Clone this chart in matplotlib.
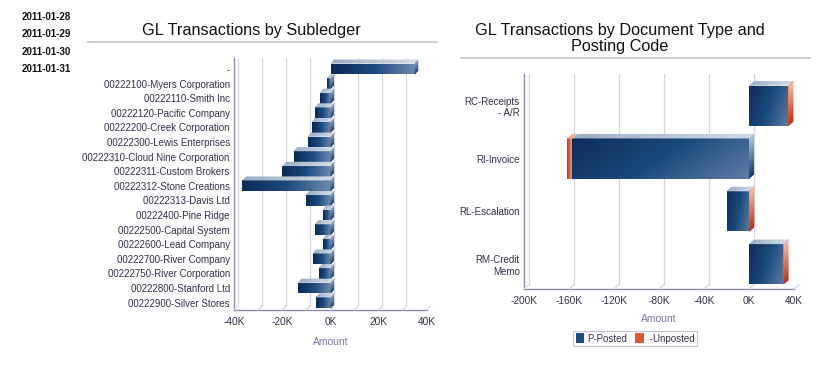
import matplotlib
matplotlib.use("Agg")
import matplotlib.pyplot as plt
import numpy as np
from matplotlib.colors import LinearSegmentedColormap, to_rgb
from matplotlib.patches import Polygon, Patch
from matplotlib.transforms import IdentityTransform, offset_copy
from matplotlib.ticker import FuncFormatter

plt.rcParams['font.family'] = ['Liberation Sans', 'DejaVu Sans']

# ---------------- data ----------------
dates = ["2011-01-28", "2011-01-29", "2011-01-30", "2011-01-31"]

subledgers = ["-", "00222100-Myers Corporation", "00222110-Smith Inc",
              "00222120-Pacific Company", "00222200-Creek Corporation",
              "00222300-Lewis Enterprises", "00222310-Cloud Nine Corporation",
              "00222311-Custom Brokers", "00222312-Stone Creations",
              "00222313-Davis Ltd", "00222400-Pine Ridge",
              "00222500-Capital System", "00222600-Lead Company",
              "00222700-River Company", "00222750-River Corporation",
              "00222800-Stanford Ltd", "00222900-Silver Stores"]
subledger_amount = [34900, -1400, -4400, -6500, -7800, -9400, -15300, -19900,
                    -36500, -10300, -3200, -6500, -3200, -7400, -4900, -13600, -6100]
left_ticks = [-40000, -20000, 0, 20000, 40000]
left_grid = [-40000, -30000, -20000, -10000, 0, 10000, 20000, 30000, 40000]

doc_types = ["RC-Receipts\n- A/R", "RI-Invoice", "RL-Escalation", "RM-Credit\nMemo"]
posted = [34700, -157000, -19900, 30500]
unposted = [300, -4400, 200, 200]
right_ticks = [-200000, -160000, -120000, -80000, -40000, 0, 40000]
series_names = ["P-Posted", " -Unposted"]

# ---------------- style ----------------
W, H = 835, 368
fig = plt.figure(figsize=(W / 100, H / 100), dpi=100)

SPINE = "#8c8cb0"
GRID = "#d4d4e2"
TICKC = "#333348"
LABELC = "#7a7aa8"

blue_cmap = LinearSegmentedColormap.from_list("b", ["#0c2a56", "#1b4a7e", "#6f8aad"])
blue_diag = LinearSegmentedColormap.from_list("bd", ["#0e2d5a", "#1a4a7c", "#5d7ca3"])
red_cmap = LinearSegmentedColormap.from_list("r", ["#c8341a", "#e0613f", "#f09a7c"])


def kfmt(v, p):
    return f"{int(round(v / 1000))}K"


def style_axes(ax, ticks, grid, dx, dy):
    ax.set_xticks(ticks)
    ax.xaxis.set_major_formatter(FuncFormatter(kfmt))
    for s in ["top", "right"]:
        ax.spines[s].set_visible(False)
    for s in ["left", "bottom"]:
        ax.spines[s].set_color(SPINE)
        ax.spines[s].set_linewidth(1.0)
    ax.tick_params(axis="y", length=0, pad=3, labelsize=7, labelcolor=TICKC)
    ax.tick_params(axis="x", length=0, pad=5, labelsize=7.3, labelcolor=TICKC)
    ylo, yhi = ax.get_ylim()
    # back-wall grid lines (offset by depth)
    tr = offset_copy(ax.transData, fig=fig, x=dx, y=dy, units="dots")
    ax.vlines(grid, yhi, ylo, colors=GRID, linewidth=0.9, transform=tr, zorder=0.5)
    # floor connectors
    for g in grid:
        x0, y0 = ax.transData.transform((g, ylo))
        fig.add_artist(plt.Line2D([x0, x0 + dx], [y0, y0 + dy], color=GRID, lw=0.9,
                                  transform=IdentityTransform(), zorder=0.5))


def gradient_bar(ax, patch, cmap, diagonal=False, z=2):
    x, y, w, h = patch.get_x(), patch.get_y(), patch.get_width(), patch.get_height()
    l, r = min(x, x + w), max(x, x + w)
    gx = np.linspace(0, 1, 128)[None, :]
    gy = np.linspace(0, 1, 32)[:, None]
    g = (0.75 * gx + 0.25 * gy) if diagonal else np.repeat(gx, 32, axis=0)
    im = ax.imshow(g, extent=(l, r, y + h, y), origin="upper", aspect="auto",
                   cmap=cmap, vmin=0, vmax=1, zorder=z, interpolation="bilinear")
    im.set_clip_path(patch)


def mix(c0, c1, t):
    a, b = np.array(to_rgb(c0)), np.array(to_rgb(c1))
    return tuple(a + (b - a) * t)


def faces(ax, patch, dx, dy, top_cols, side_cols=None, z=1.8):
    x, y, w, h = patch.get_x(), patch.get_y(), patch.get_width(), patch.get_height()
    l, r = min(x, x + w), max(x, x + w)
    (xl, yb), (xr, yt) = ax.transData.transform([(l, y + h), (r, y)])
    n = 8
    # top face, horizontal gradient
    for i in range(n):
        a = xl + (xr - xl) * i / n
        b = xl + (xr - xl) * (i + 1) / n + 0.5
        fig.add_artist(Polygon([(a, yt), (b, yt), (b + dx, yt + dy), (a + dx, yt + dy)],
                               closed=True, transform=IdentityTransform(),
                               facecolor=mix(top_cols[0], top_cols[1], i / (n - 1)),
                               edgecolor="none", zorder=z))
    if side_cols is not None:
        for i in range(n):
            ya = yt - (yt - yb) * i / n
            yb2 = yt - (yt - yb) * (i + 1) / n - 0.5
            fig.add_artist(Polygon([(xr, ya), (xr + dx, ya + dy), (xr + dx, yb2 + dy), (xr, yb2)],
                                   closed=True, transform=IdentityTransform(),
                                   facecolor=mix(side_cols[0], side_cols[1], i / (n - 1)),
                                   edgecolor="none", zorder=z))


# ---------------- left chart ----------------
ax1 = fig.add_axes([234 / W, 1 - 310 / H, 193 / W, 252 / H])
ax1.set_xlim(-40000, 40000)
ax1.set_ylim(len(subledgers) - 1 + 0.5, -0.75)
ypos = np.arange(len(subledgers))
bars1 = ax1.barh(ypos, subledger_amount, height=0.74, color="#1b4a7e",
                 edgecolor="none", zorder=2)
ax1.set_yticks(ypos)
ax1.set_yticklabels(subledgers)
style_axes(ax1, left_ticks, left_grid, 3.5, 4)
ax1.set_xlim(-40000, 40000)
ax1.set_ylim(len(subledgers) - 1 + 0.5, -0.75)
for p in bars1:
    gradient_bar(ax1, p, blue_cmap)
for p in bars1:
    faces(ax1, p, 3.5, 4, ("#9fb0c6", "#d0d9e4"), ("#7f9bbd", "#1d4274"))
ax1.set_xlabel("Amount", color=LABELC, fontsize=7.5, labelpad=7)

# ---------------- right chart ----------------
ax2 = fig.add_axes([524 / W, 1 - 289 / H, 270 / W, 215 / H])
ax2.set_xlim(-200000, 40000)
ax2.set_ylim(len(doc_types) - 1 + 0.47, -0.6)
ypos2 = np.arange(len(doc_types))
b_post = ax2.barh(ypos2, posted, height=0.76, color="#1b4a7e", edgecolor="none", zorder=2)
left_un = [p if (p >= 0) == (u >= 0) else 0 for p, u in zip(posted, unposted)]
b_unp = ax2.barh(ypos2, unposted, left=left_un, height=0.76, color="#d9502a",
                 edgecolor="none", zorder=2)
ax2.set_yticks(ypos2)
ax2.set_yticklabels(doc_types, multialignment="right")
style_axes(ax2, right_ticks, right_ticks, 5, 4.5)
ax2.set_xlim(-200000, 40000)
ax2.set_ylim(len(doc_types) - 1 + 0.47, -0.6)
for pb, pu in zip(b_post, b_unp):
    gradient_bar(ax2, pb, blue_diag, diagonal=True)
    gradient_bar(ax2, pu, red_cmap)
    rb = max(pb.get_x(), pb.get_x() + pb.get_width())
    ru = max(pu.get_x(), pu.get_x() + pu.get_width())
    faces(ax2, pb, 5, 4.5, ("#9fb1c7", "#cdd7e3"),
          ("#a9bbd0", "#183e6c") if rb >= ru else None)
    faces(ax2, pu, 5, 4.5, ("#f0a48a", "#f4b8a2"),
          ("#f2b29a", "#c8341a") if ru > rb else None)
ax2.set_xlabel("Amount", color=LABELC, fontsize=7.5, labelpad=6)

# ---------------- titles, dates, legend ----------------
fig.text(251 / W, 1 - 31 / H, "GL Transactions by Subledger", ha="center", va="center",
         fontsize=11.7, color="#111111")
fig.text(620 / W, 1 - 38.5 / H, "GL Transactions by Document Type and\nPosting Code",
         ha="center", va="center", fontsize=11.7, color="#111111", linespacing=1.0)
fig.add_artist(plt.Line2D([88 / W, 437 / W], [1 - 42 / H] * 2, color="#c8c8dc", lw=1.3))
fig.add_artist(plt.Line2D([461 / W, 810 / W], [1 - 58 / H] * 2, color="#c8c8dc", lw=1.3))

for i, d in enumerate(dates):
    fig.text(22 / W, 1 - (17 + 17.3 * i) / H, d, ha="left", va="center",
             fontsize=7, fontweight="bold", color="#111111")

handles = [Patch(facecolor="#1f4a7c", edgecolor="none"),
           Patch(facecolor="#dc5a32", edgecolor="none")]
leg = fig.legend(handles, series_names, loc="center", bbox_to_anchor=(635 / W, 1 - 338.5 / H),
                 ncol=2, fontsize=7, frameon=True, handlelength=0.9, handleheight=1.2,
                 handletextpad=0.3, columnspacing=0.8, borderpad=0.25,
                 fancybox=False, labelcolor=TICKC)
leg.get_frame().set_edgecolor("#b8b8cc")
leg.get_frame().set_linewidth(0.8)

fig.savefig("out.png", dpi=100)
